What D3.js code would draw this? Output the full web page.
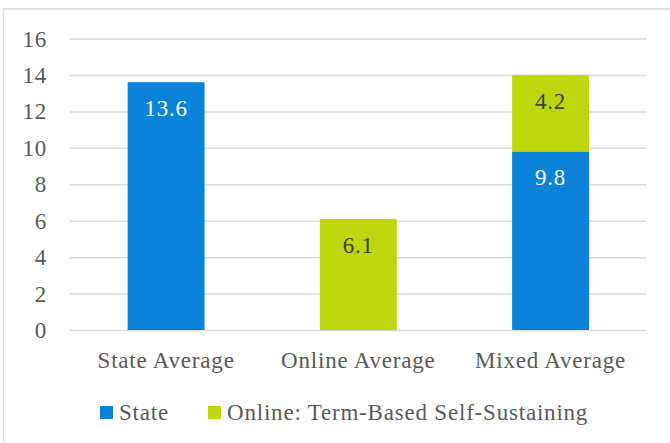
<!DOCTYPE html>
<html>
<head>
<meta charset="utf-8">
<script src="https://cdn.jsdelivr.net/npm/d3@7"></script>
<style>
  body { margin: 0; background: #fff; }
  svg { display: block; font-family: "Liberation Serif", serif; letter-spacing: 0.8px; }
  .grid line { stroke: #d9d9d9; stroke-width: 1.5; }
  .grid path { display: none; }
</style>
</head>
<body>
<div id="chart"></div>
<script>
const categories = ['State Average', 'Online Average', 'Mixed Average'];
const seriesNames = ['State', 'Online: Term-Based Self-Sustaining'];
const stateValues = [13.6, 0, 9.8];
const onlineValues = [0, 6.1, 4.2];
const yTicks = [0, 2, 4, 6, 8, 10, 12, 14, 16];

const colors = ['#0a82d7', '#bdd70c'];
const labelColors = ['#ffffff', '#404040'];
const fontSize = 23;

const width = 670, height = 443;
const margin = {top: 38.5, left: 70, right: 23.3, bottom: 113};

const svg = d3.select('#chart').append('svg')
  .attr('width', width)
  .attr('height', height);

svg.append('rect')
  .attr('x', 3.5).attr('y', 9)
  .attr('width', width + 10).attr('height', height + 10)
  .attr('fill', '#fff')
  .attr('stroke', '#d9d9d9')
  .attr('stroke-width', 1.5);

const plotW = width - margin.left - margin.right;
const plotH = 330 - margin.top;

const x = d3.scaleBand()
  .domain(categories)
  .range([margin.left, margin.left + plotW])
  .paddingInner(0.6)
  .paddingOuter(0.3);

const y = d3.scaleLinear()
  .domain([0, 16])
  .range([margin.top + plotH, margin.top]);

svg.append('g')
  .attr('class', 'grid')
  .attr('transform', `translate(${margin.left},0)`)
  .call(d3.axisLeft(y).tickValues(yTicks).tickSize(-plotW).tickFormat(''));

// y tick labels
svg.append('g')
  .selectAll('text')
  .data(yTicks)
  .join('text')
  .attr('x', 47)
  .attr('y', d => y(d))
  .attr('dy', '0.35em')
  .attr('text-anchor', 'end')
  .attr('font-size', fontSize)
  .attr('fill', '#595959')
  .text(d => d);

const rows = categories.map((c, i) => ({cat: c, s0: stateValues[i], s1: onlineValues[i]}));
const stacked = d3.stack().keys(['s0', 's1'])(rows);

stacked.forEach((layer, k) => {
  const g = svg.append('g');
  g.selectAll('rect')
    .data(layer.filter(d => d[1] - d[0] > 0))
    .join('rect')
    .attr('x', d => x(d.data.cat))
    .attr('width', x.bandwidth())
    .attr('y', d => y(d[1]))
    .attr('height', d => y(d[0]) - y(d[1]))
    .attr('fill', colors[k]);

  g.selectAll('text')
    .data(layer.filter(d => d[1] - d[0] > 0))
    .join('text')
    .attr('x', d => x(d.data.cat) + x.bandwidth() / 2)
    .attr('y', d => y(d[1]) + 34)
    .attr('text-anchor', 'middle')
    .attr('font-size', fontSize)
    .attr('fill', labelColors[k])
    .text(d => d3.format('.1f')(d[1] - d[0]));
});

// category labels
svg.append('g')
  .selectAll('text')
  .data(categories)
  .join('text')
  .attr('x', d => x(d) + x.bandwidth() / 2)
  .attr('y', 368)
  .attr('text-anchor', 'middle')
  .attr('font-size', fontSize)
  .attr('fill', '#595959')
  .text(d => d);

// legend
const legendX = [100, 208];
const legend = svg.append('g');
seriesNames.forEach((name, i) => {
  legend.append('rect')
    .attr('x', legendX[i]).attr('y', 406)
    .attr('width', 13).attr('height', 13)
    .attr('fill', colors[i]);
  legend.append('text')
    .attr('x', legendX[i] + 19)
    .attr('y', 420)
    .attr('font-size', fontSize)
    .attr('fill', '#595959')
    .text(name);
});
</script>
</body>
</html>
